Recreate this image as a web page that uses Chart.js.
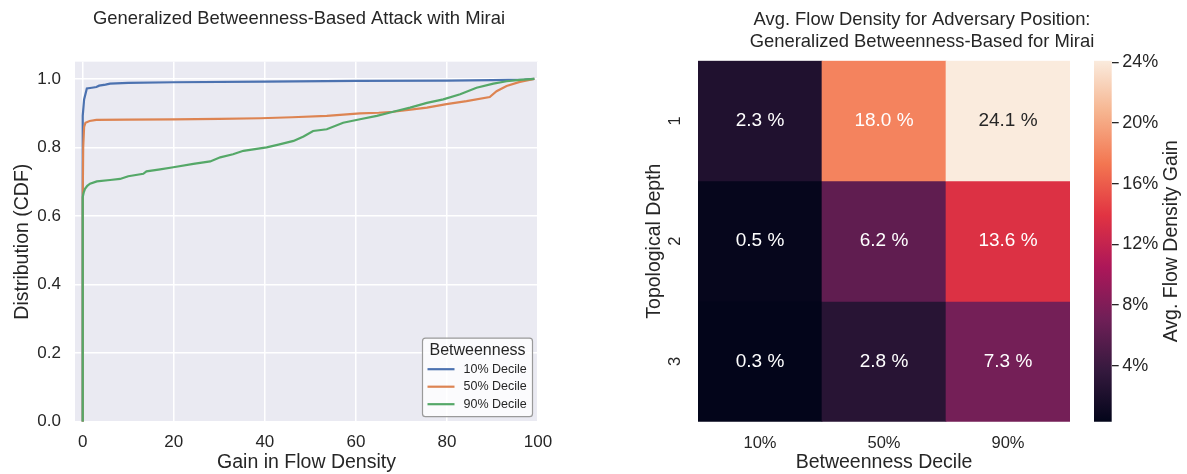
<!DOCTYPE html>
<html>
<head>
<meta charset="utf-8">
<script src="https://cdn.jsdelivr.net/npm/chart.js@4.4.0/dist/chart.umd.min.js"></script>
<style>
  body { margin: 0; background: #fff; width: 1187px; height: 474px; overflow: hidden; position: relative; }
  canvas { position: absolute; top: 0; }
  #cdf { left: 0; }
  #heat { left: 630px; }
  #cbar { left: 1085px; }
</style>
</head>
<body>
<canvas id="cdf" width="598" height="474"></canvas>
<canvas id="heat" width="584" height="474"></canvas>
<canvas id="cbar" width="102" height="474"></canvas>
<script>
"use strict";

// ---- left panel: CDF of flow density gain ----
const gainTicks = [0, 20, 40, 60, 80, 100];
const cdfTicks = [0, 0.2, 0.4, 0.6, 0.8, 1.0];

const gain10 = [0, 0, 0.3, 0.9, 2.0, 3.0, 3.6, 5.0, 6.0, 10, 20, 40, 60, 80, 90, 97, 99.2];
const cdf10 = [0, 0.892, 0.94, 0.972, 0.974, 0.976, 0.980, 0.983, 0.986, 0.988, 0.990, 0.992, 0.994, 0.995, 0.996, 0.998, 1.0];

const gain50 = [0, 0, 0.1, 0.3, 0.6, 1.5, 3, 10, 20, 30, 39, 46, 53.6, 60.9, 65, 68.2, 72, 75.6, 79.9, 84.3, 89.4, 90.9, 93.1, 96, 99.2];
const cdf50 = [0, 0.655, 0.80, 0.86, 0.872, 0.877, 0.880, 0.881, 0.882, 0.883, 0.885, 0.888, 0.892, 0.899, 0.901, 0.904, 0.910, 0.916, 0.926, 0.935, 0.947, 0.964, 0.979, 0.991, 1.0];

const gain90 = [0, 0, 0.2, 0.5, 1.0, 1.6, 3.1, 6.0, 8.2, 10, 13.3, 14, 17, 19.9, 24.3, 28, 30.2, 33, 35.3, 40.4, 43, 46.3, 48.5, 50.6, 53.6, 57.2, 60.9, 64.6, 68.2, 71.9, 75.6, 79.2, 82.9, 86.5, 90.2, 93.1, 96, 99.2];
const cdf90 = [0, 0.655, 0.668, 0.679, 0.688, 0.694, 0.701, 0.705, 0.708, 0.716, 0.723, 0.730, 0.736, 0.742, 0.752, 0.759, 0.771, 0.780, 0.790, 0.800, 0.808, 0.819, 0.832, 0.848, 0.853, 0.872, 0.882, 0.892, 0.904, 0.916, 0.930, 0.940, 0.955, 0.974, 0.986, 0.993, 0.997, 1.0];

// ---- right panel: heatmap ----
const deciles = ['10%', '50%', '90%'];
const depths = ['1', '2', '3'];
const depth1Gain = [2.3, 18.0, 24.1];
const depth2Gain = [0.5, 6.2, 13.6];
const depth3Gain = [0.3, 2.8, 7.3];
const colorbarTicks = [4, 8, 12, 16, 20, 24];

const FONT = "'Liberation Sans', Arial, Helvetica, sans-serif";
const TEXT = '#262626';
Chart.defaults.font.family = FONT;
Chart.defaults.color = TEXT;

// seaborn "rocket" colormap stops
const ROCKET = [
    [0.0, [3, 5, 26]],
    [1 / 7, [53, 25, 62]],
    [2 / 7, [112, 31, 87]],
    [3 / 7, [173, 23, 89]],
    [4 / 7, [225, 51, 66]],
    [5 / 7, [243, 118, 81]],
    [6 / 7, [246, 180, 143]],
    [1.0, [250, 235, 221]]
];

function rocketRgb(t) {
    t = Math.max(0, Math.min(1, t));
    for (let i = 1; i < ROCKET.length; i++) {
        if (t <= ROCKET[i][0]) {
            const a = ROCKET[i - 1], b = ROCKET[i];
            const f = (t - a[0]) / (b[0] - a[0]);
            return a[1].map((c, k) => Math.round(c + (b[1][k] - c) * f));
        }
    }
    return ROCKET[ROCKET.length - 1][1];
}

function rgbStr(c) {
    return 'rgb(' + c.join(',') + ')';
}

const heatRows = [depth1Gain, depth2Gain, depth3Gain];
const vmin = Math.min(...heatRows.flat());
const vmax = Math.max(...heatRows.flat());
const norm = v => (v - vmin) / (vmax - vmin);

function luminance(c) {
    const lin = c.map(x => {
        x = x / 255;
        return x <= 0.03928 ? x / 12.92 : Math.pow((x + 0.055) / 1.055, 2.4);
    });
    return 0.2126 * lin[0] + 0.7152 * lin[1] + 0.0722 * lin[2];
}

// ---- plugins ----
const plotBackground = {
    id: 'plotBackground',
    beforeDraw(chart) {
        const a = chart.chartArea;
        chart.ctx.save();
        chart.ctx.fillStyle = '#EAEAF2';
        chart.ctx.fillRect(a.left, a.top, a.right - a.left, a.bottom - a.top);
        chart.ctx.restore();
    }
};

const boxLegend = {
    id: 'boxLegend',
    afterDraw(chart) {
        const ctx = chart.ctx;
        const a = chart.chartArea;
        const w = 110, h = 78.5;
        const x = a.right - 5.5 - w;
        const y = a.bottom - 5 - h;
        ctx.save();
        ctx.beginPath();
        ctx.roundRect(x, y, w, h, 3);
        ctx.fillStyle = 'rgba(255,255,255,0.8)';
        ctx.fill();
        ctx.strokeStyle = '#9a9a9a';
        ctx.lineWidth = 1.2;
        ctx.stroke();

        ctx.fillStyle = TEXT;
        ctx.textBaseline = 'middle';
        ctx.textAlign = 'center';
        ctx.font = '16px ' + FONT;
        ctx.fillText('Betweenness', x + w / 2, y + 12);

        ctx.textAlign = 'left';
        ctx.font = '12.5px ' + FONT;
        chart.data.datasets.forEach((ds, i) => {
            const ly = y + 31 + i * 17.5;
            ctx.strokeStyle = ds.borderColor;
            ctx.lineWidth = 2.2;
            ctx.beginPath();
            ctx.moveTo(x + 5, ly);
            ctx.lineTo(x + 32, ly);
            ctx.stroke();
            ctx.fillText(ds.label, x + 41, ly);
        });
        ctx.restore();
    }
};

const cellLabels = {
    id: 'cellLabels',
    afterDatasetsDraw(chart) {
        const ctx = chart.ctx;
        ctx.save();
        ctx.font = '19px ' + FONT;
        ctx.textAlign = 'center';
        ctx.textBaseline = 'middle';
        chart.data.datasets.forEach((ds, i) => {
            chart.getDatasetMeta(i).data.forEach((bar, j) => {
                const v = ds.gains[j];
                ctx.fillStyle = luminance(rocketRgb(norm(v))) > 0.408 ? TEXT : '#ffffff';
                ctx.fillText(v.toFixed(1) + ' %', bar.x, (bar.y + bar.base) / 2);
            });
        });
        ctx.restore();
    }
};

const colorbarLabel = {
    id: 'colorbarLabel',
    afterDraw(chart) {
        const ctx = chart.ctx;
        const a = chart.chartArea;
        ctx.save();
        ctx.translate(87, (a.top + a.bottom) / 2);
        ctx.rotate(-Math.PI / 2);
        ctx.font = '19.5px ' + FONT;
        ctx.fillStyle = TEXT;
        ctx.textAlign = 'center';
        ctx.textBaseline = 'middle';
        ctx.fillText('Avg. Flow Density Gain', 0, 0);
        ctx.restore();
    }
};

// ---- left chart ----
const lineSets = [
    { label: '10% Decile', x: gain10, y: cdf10, color: '#4C72B0', order: 2 },
    { label: '50% Decile', x: gain50, y: cdf50, color: '#DD8452', order: 1 },
    { label: '90% Decile', x: gain90, y: cdf90, color: '#55A868', order: 0 }
];

new Chart(document.getElementById('cdf'), {
    type: 'line',
    data: {
        datasets: lineSets.map(s => ({
            label: s.label,
            data: s.x.map((x, i) => ({ x: x, y: s.y[i] })),
            borderColor: s.color,
            backgroundColor: s.color,
            borderWidth: 2.2,
            pointRadius: 0,
            fill: false,
            tension: 0,
            order: s.order
        }))
    },
    options: {
        responsive: false,
        animation: false,
        layout: { padding: 0 },
        plugins: {
            legend: { display: false },
            tooltip: { enabled: false },
            title: {
                display: true,
                text: 'Generalized Betweenness-Based Attack with Mirai',
                font: { size: 18.4, weight: 'normal' },
                color: TEXT,
                padding: { top: 8, bottom: 31.6 }
            }
        },
        scales: {
            x: {
                type: 'linear',
                min: -1.7,
                max: 100,
                afterBuildTicks(s) { s.ticks = gainTicks.map(v => ({ value: v })); },
                ticks: { font: { size: 17 }, padding: 10 },
                grid: { color: '#ffffff', lineWidth: 1.5, drawTicks: false },
                border: { display: false },
                title: { display: true, text: 'Gain in Flow Density', font: { size: 19.5 }, padding: { top: 0, bottom: 0 } },
                afterFit(s) { s.height = 52.3; }
            },
            y: {
                type: 'linear',
                min: 0,
                max: 1.05,
                afterBuildTicks(s) { s.ticks = cdfTicks.map(v => ({ value: v })); },
                ticks: { font: { size: 17 }, padding: 14, callback: v => v.toFixed(1) },
                grid: { color: '#ffffff', lineWidth: 1.5, drawTicks: false },
                border: { display: false },
                title: { display: true, text: 'Distribution (CDF)', font: { size: 19.5 }, padding: { top: 11, bottom: 0 } },
                afterFit(s) { s.width = 75; }
            },
            pad: {
                position: 'right',
                grid: { display: false },
                border: { display: false },
                ticks: { display: false },
                afterFit(s) { s.width = 60; }
            }
        }
    },
    plugins: [plotBackground, boxLegend]
});

// ---- heatmap ----
new Chart(document.getElementById('heat'), {
    type: 'bar',
    data: {
        labels: deciles,
        datasets: heatRows.map((row, i) => ({
            label: depths[i],
            data: row.map(() => 1),
            gains: row,
            backgroundColor: row.map(v => rgbStr(rocketRgb(norm(v)))),
            borderWidth: 0,
            barPercentage: 1,
            categoryPercentage: 1
        }))
    },
    options: {
        responsive: false,
        animation: false,
        layout: { padding: 0 },
        plugins: {
            legend: { display: false },
            tooltip: { enabled: false },
            title: {
                display: true,
                text: ['Avg. Flow Density for Adversary Position:', 'Generalized Betweenness-Based for Mirai'],
                font: { size: 18.4, weight: 'normal' },
                color: TEXT,
                padding: { top: 9, bottom: 7.5 }
            }
        },
        scales: {
            x: {
                stacked: true,
                grid: { display: false, drawTicks: false },
                border: { display: false },
                ticks: { font: { size: 16.5 }, padding: 12 },
                title: { display: true, text: 'Betweenness Decile', font: { size: 19.5 }, padding: { top: 0, bottom: 0 } },
                afterFit(s) { s.height = 52.3; }
            },
            y: {
                stacked: true,
                min: 0,
                max: 3,
                reverse: true,
                afterBuildTicks(s) { s.ticks = depths.map((d, i) => ({ value: i + 0.5 })); },
                grid: { display: false, drawTicks: false },
                border: { display: false },
                ticks: { font: { size: 16.5 }, padding: 18, minRotation: 90, maxRotation: 90, crossAlign: 'center', callback: (v, i) => depths[i] },
                title: { display: true, text: 'Topological Depth', font: { size: 19.5 }, padding: { top: 13, bottom: 0 } },
                afterFit(s) { s.width = 68; }
            },
            pad: {
                position: 'right',
                grid: { display: false },
                border: { display: false },
                ticks: { display: false },
                afterFit(s) { s.width = 144; }
            }
        }
    },
    plugins: [cellLabels]
});

// ---- colorbar ----
new Chart(document.getElementById('cbar'), {
    type: 'bar',
    data: {
        labels: [''],
        datasets: [{
            data: [[vmin, vmax]],
            backgroundColor(ctx) {
                const chart = ctx.chart;
                const y = chart.scales.y;
                if (!chart.chartArea || !y) return '#000';
                const g = chart.ctx.createLinearGradient(0, y.getPixelForValue(vmin), 0, y.getPixelForValue(vmax));
                ROCKET.forEach(s => g.addColorStop(s[0], rgbStr(s[1])));
                return g;
            },
            borderWidth: 0,
            barPercentage: 1,
            categoryPercentage: 1
        }]
    },
    options: {
        responsive: false,
        animation: false,
        layout: { padding: { top: 60.7, bottom: 52.3, left: 9, right: 0 } },
        plugins: { legend: { display: false }, tooltip: { enabled: false } },
        scales: {
            x: { display: false },
            y: {
                position: 'right',
                min: vmin,
                max: vmax,
                afterBuildTicks(s) { s.ticks = colorbarTicks.map(v => ({ value: v })); },
                ticks: { font: { size: 18 }, padding: 3.5, callback: v => v + '%' },
                grid: { drawOnChartArea: false, drawTicks: true, tickLength: 7, color: TEXT, lineWidth: 1.3 },
                border: { display: false },
                afterFit(s) { s.width = 75.3; }
            }
        }
    },
    plugins: [colorbarLabel]
});
</script>
</body>
</html>
